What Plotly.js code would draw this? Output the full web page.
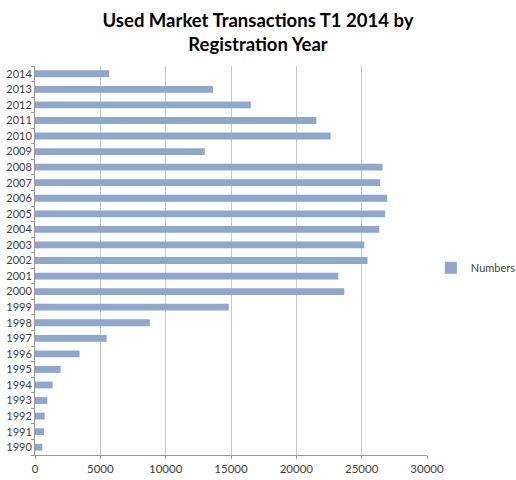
<!DOCTYPE html>
<html><head><meta charset="utf-8">
<script src="https://cdn.plot.ly/plotly-3.0.1.min.js"></script>
<style>html,body{margin:0;padding:0;background:#fff}#c{width:516px;height:480px}</style>
</head><body><div id="c"></div>
<script>
const years = ["1990","1991","1992","1993","1994","1995","1996","1997","1998","1999","2000","2001","2002","2003","2004","2005","2006","2007","2008","2009","2010","2011","2012","2013","2014"];
const numbers = [560,690,740,945,1350,1960,3410,5480,8790,14830,23670,23210,25450,25200,26345,26800,26955,26420,26600,12990,22625,21530,16510,13630,5680];
const seriesName = "Numbers";
const xTicks = [0,5000,10000,15000,20000,25000,30000];

Plotly.newPlot('c', [{
  type: 'bar', orientation: 'h', y: years, x: numbers, name: seriesName,
  marker: {color: '#8FA6CD'}, showlegend: true
}], {
  width: 516, height: 480,
  margin: {l: 35, r: 89, t: 66, b: 25},
  paper_bgcolor: '#fff', plot_bgcolor: '#fff',
  font: {family: 'Lato, Open Sans, sans-serif', color: '#404040', size: 11},
  title: {text: '<b>Used Market Transactions T1 2014 by<br>Registration Year</b>', x: 0.5, xanchor: 'center', xref: 'container', yref: 'container', y: 0.943, yanchor: 'middle',
    font: {size: 18.5, color: '#000', family: 'Lato, Open Sans, sans-serif'}},
  bargap: 0.56,
  xaxis: {range: [0, 30000], tickvals: xTicks, ticktext: xTicks.map(String), showgrid: true, gridcolor: '#C8C8C8', gridwidth: 1,
    zeroline: false, showline: true, linecolor: '#999', ticks: 'outside', ticklen: 3, tickcolor: '#999', tickfont: {size: 11.5}, automargin: false},
  yaxis: {type: 'category', categoryorder: 'array', categoryarray: years, tickson: 'boundaries', ticks: 'outside', ticklen: 3, tickcolor: '#999',
    showline: true, linecolor: '#999', showgrid: false, tickfont: {size: 11}, automargin: false},
  legend: {xref: 'container', yref: 'container', x: 0.835, y: 0.442, xanchor: 'left', yanchor: 'middle', font: {size: 11, color: '#404040'}, itemwidth: 30, bgcolor: 'rgba(0,0,0,0)'}
}, {displayModeBar: false, staticPlot: true});
</script></body></html>
